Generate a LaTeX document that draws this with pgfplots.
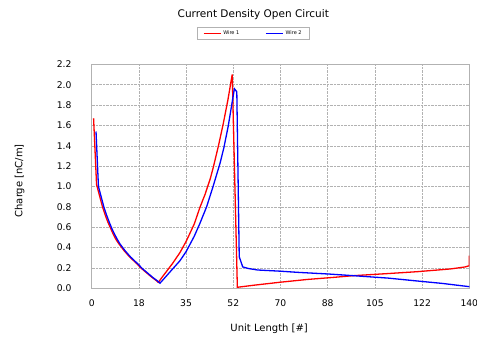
\documentclass[border=0pt]{standalone}
\usepackage{pgfplots}
\pgfplotsset{compat=1.18}
\usepackage{fontspec}
\setmainfont{DejaVu Sans}
\begin{document}
\begin{tikzpicture}
\path[use as bounding box] (0pt,0pt) rectangle (477pt,338pt);
\begin{axis}[
  at={(91.7pt,49.7pt)}, anchor=south west,
  scale only axis, width=377.6pt, height=224pt,
  clip mode=individual,
  xmin=0, xmax=140, ymin=0, ymax=2.2,
  xtick={0,17.5,35,52.5,70,87.5,105,122.5,140},
  xticklabels={0,18,35,52,70,88,105,122,140},
  ytick={0,0.2,...,2.2},
  yticklabel style={/pgf/number format/fixed, /pgf/number format/fixed zerofill, /pgf/number format/precision=1},
  /pgf/number format/assume math mode=true,
  major tick length=0pt,
  grid=major,
  grid style={densely dotted, gray!60, line width=0.45pt},
  axis line style={gray!60, line width=0.6pt},
  tick label style={font=\fontsize{9.2}{11}\selectfont},
  yticklabel style={anchor=east, inner sep=0pt, xshift=-20pt},
  xticklabel style={anchor=center, inner sep=0pt, yshift=-15pt},
  xlabel={Unit Length [\#]},
  xlabel style={at={(axis description cs:0.47,-0.182)}, anchor=center, font=\fontsize{10}{12}\selectfont, inner sep=0pt},
  ylabel={Charge [nC/m]},
  ylabel style={at={(axis description cs:-0.191,0.48)}, anchor=center, font=\fontsize{10}{12}\selectfont, inner sep=0pt},
  legend columns=2,
  legend style={at={(axis description cs:0.428,1.138)}, anchor=center,
    font=\tiny, draw=gray!60,
    inner xsep=6pt, inner ysep=1.5pt,
    /tikz/every even column/.append style={column sep=24pt}},
  legend image code/.code={\path[#1, draw=none, fill] (0pt,-0.6pt) rectangle (13pt,0.6pt); \path (0pt,0pt) -- (17pt,0pt);},
]
\addplot[red, line width=1.3pt] coordinates {
(0.7,1.67)(1.8,1.02)(3,0.90)(4,0.80)(5,0.72)(6,0.65)(7,0.59)(8,0.53)(9,0.48)(10,0.44)(11,0.405)(12,0.37)(13,0.34)(14,0.31)(15,0.285)(16,0.26)(17,0.235)(18,0.205)(20,0.16)(22,0.115)(24,0.075)(24.7,0.058)(26,0.105)(28,0.175)(30,0.245)(32.7,0.35)(35,0.46)(38,0.63)(40.2,0.80)(42,0.92)(44,1.08)(45.1,1.19)(47,1.40)(48.8,1.62)(50.5,1.85)(52.1,2.10)(54,0.01)(60,0.03)(70,0.06)(80,0.087)(90,0.108)(97,0.124)(110,0.145)(120.6,0.163)(133,0.19)(138.5,0.21)(140,0.222)(140,0.32)
};
\addlegendentry{Wire 1}
\addplot[blue, line width=1.3pt] coordinates {
(1.6,1.54)(2.5,1.0)(3.5,0.90)(4.5,0.80)(5.5,0.72)(6.5,0.65)(7.5,0.585)(8.5,0.53)(9.5,0.48)(10.5,0.435)(11.5,0.40)(12.5,0.365)(13.5,0.335)(14.5,0.305)(15.5,0.28)(16.5,0.255)(17.5,0.23)(18.5,0.20)(20.5,0.155)(22.5,0.11)(24.5,0.07)(25.3,0.05)(27,0.10)(30,0.19)(32.7,0.27)(35,0.36)(38,0.51)(40,0.63)(42.6,0.80)(45,1.0)(47.6,1.23)(49,1.38)(50.6,1.59)(52.9,1.96)(53.8,1.93)(54.7,0.31)(56,0.21)(58,0.195)(61.4,0.18)(70,0.168)(76.2,0.157)(88,0.14)(97,0.124)(110,0.1)(120.6,0.072)(130,0.048)(140,0.016)
};
\addlegendentry{Wire 2\hspace{12pt}}
\node[font=\fontsize{10.5}{12}\selectfont, inner sep=0pt] at (axis description cs:0.428,1.222) {Current Density Open Circuit};
\end{axis}
\end{tikzpicture}
\end{document}
